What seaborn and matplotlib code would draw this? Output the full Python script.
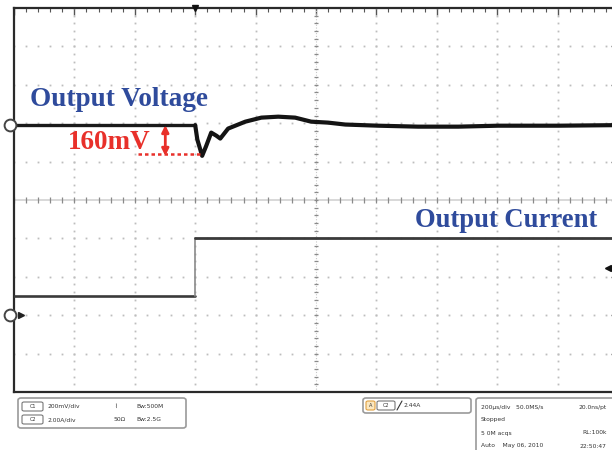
import numpy as np
import matplotlib
matplotlib.use("Agg")
import matplotlib.pyplot as plt
import seaborn as sns
from matplotlib.patches import FancyBboxPatch

# ---------------- data (read from the scope capture) ----------------
volt_time_us = [-600, 0, 7, 23, 36, 53, 70, 83, 109, 166, 219, 275, 331, 384,
                440, 497, 606, 738, 871, 1003, 1202, 1400]
volt_dev_mv = [0, 0, -75, -160, -110, -39, -55, -70, -18, 18, 39, 44, 39, 18,
               13, 3, -3, -8, -8, -3, -3, 0]
curr_time_us = [-600, 0, 0, 1400]
curr_amp = [1.0, 1.0, 4.0, 4.0]
trigger_level_a = 2.44
label_voltage = "Output Voltage"
label_current = "Output Current"
label_dip = "160mV"
status_ch1 = ["C1", "200mV/div", "Bw:500M"]
status_ch2 = ["C2", "2.00A/div", "50Ω", "Bw:2.5G"]
status_trig = ["A", "C2", "2.44A"]
status_acq = [("200µs/div   50.0MS/s", "20.0ns/pt"), ("Stopped", ""),
              ("5 0M acqs", "RL:100k"), ("Auto    May 06, 2010", "22:50:47")]

# scope settings
T_DIV = 200.0      # us/div
V_DIV = 200.0      # mV/div
I_DIV = 2.0        # A/div
CH1_POS = 1.95     # div
CH2_POS = -3.0     # div

W, H = 612, 450
sns.set_theme(style="white")
fig = plt.figure(figsize=(W / 100, H / 100), dpi=100)
fig.patch.set_facecolor("white")

L, R, T, B = 14, 618, 8, 392
ax = fig.add_axes([L / W, 1 - B / H, (R - L) / W, (B - T) / H])
ax.set_xlim(-600, 1400)
ax.set_ylim(-5, 5)

# ---------------- graticule ----------------
x_major = np.arange(-600, 1401, T_DIV)
x_minor = np.arange(-600, 1401, T_DIV / 5)
y_major = np.arange(-5, 5.01, 1)
y_minor = np.arange(-5, 5.01, 0.2)
dot = dict(ls="none", marker="s", ms=1.3, color="#bdbdbd", mew=0, zorder=1)
for yv in y_major[1:-1]:
    if abs(yv) < 1e-9:
        continue
    ax.plot(x_minor, np.full_like(x_minor, yv), **dot)
for xv in x_major[1:-1]:
    if abs(xv - 400) < 1e-9:
        continue
    ax.plot(np.full_like(y_minor, xv), y_minor, **dot)
# center crosshair
ax.axhline(0, color="#d2d2d2", lw=1.2, zorder=1)
ax.plot(x_minor, np.zeros_like(x_minor), ls="none", marker="|", ms=4,
        color="#8a8a8a", mew=0.9, zorder=1)
ax.axvline(400, color="#c8c8c8", lw=0.8, ls=(0, (1, 1.5)), zorder=1)
ax.plot(np.full_like(y_minor, 400), y_minor, ls="none", marker="_", ms=3.5,
        color="#8a8a8a", mew=0.9, zorder=1)

for s in ax.spines.values():
    s.set_color("#2a2a2a")
    s.set_linewidth(1.6)
ax.set_xticks(x_major)
ax.set_xticks(x_minor, minor=True)
ax.set_yticks(y_major)
ax.set_yticks(y_minor, minor=True)
ax.tick_params(which="both", direction="in", top=True, right=True,
               labelbottom=False, labelleft=False, color="#555555")
ax.tick_params(which="major", length=5, width=1.0)
ax.tick_params(which="minor", length=3, width=0.8)

# ---------------- traces ----------------
t_v = np.array(volt_time_us, dtype=float)
y_v = CH1_POS + np.array(volt_dev_mv, dtype=float) / V_DIV
t_i = np.array(curr_time_us, dtype=float)
y_i = CH2_POS + np.array(curr_amp, dtype=float) / I_DIV

sns.lineplot(x=t_i[:2], y=y_i[:2], ax=ax, estimator=None, sort=False,
             color="#3a3a3a", lw=1.9, zorder=3)
sns.lineplot(x=t_i[1:3], y=y_i[1:3], ax=ax, estimator=None, sort=False,
             color="#8a8a8a", lw=1.2, zorder=3)
sns.lineplot(x=t_i[2:], y=y_i[2:], ax=ax, estimator=None, sort=False,
             color="#3a3a3a", lw=2.0, zorder=3)
sns.lineplot(x=t_v[:2], y=y_v[:2], ax=ax, estimator=None, sort=False,
             color="#1a1a1a", lw=2.4, zorder=4)
sns.lineplot(x=t_v[1:], y=y_v[1:], ax=ax, estimator=None, sort=False,
             color="#141414", lw=3.0, zorder=4)

# channel reference markers
for yv in (CH1_POS, CH2_POS):
    ax.plot([-613], [yv], marker="o", ms=8.5, mfc="white", mec="#444444",
            mew=1.4, clip_on=False, zorder=6)
ax.plot([-578], [CH2_POS], marker=">", ms=4, color="#222222", clip_on=False,
        zorder=6)
# trigger markers
ax.plot([0], [5], marker="v", ms=4.5, color="#111111", clip_on=False, zorder=6)
ax.plot([1367], [CH2_POS + trigger_level_a / I_DIV], marker="<", ms=4,
        color="#111111", clip_on=False, zorder=6)

# ---------------- annotations ----------------
serif = ["Liberation Serif", "DejaVu Serif"]
blue = "#2f4b9c"
red = "#e8302a"
ax.text(-546, 2.45, label_voltage, family=serif, weight="bold", fontsize=19.6,
        color=blue, va="baseline", ha="left", zorder=7)
ax.text(728, -0.70, label_current, family=serif, weight="bold", fontsize=19.2,
        color=blue, va="baseline", ha="left", zorder=7)
ax.text(-421, 1.33, label_dip, family=serif, weight="bold", fontsize=19.5,
        color=red, va="baseline", ha="left", zorder=7)
vmin = CH1_POS + min(volt_dev_mv) / V_DIV
ax.annotate("", xy=(-99, CH1_POS), xytext=(-99, vmin),
            arrowprops=dict(arrowstyle="<|-|>", color=red, lw=2.0,
                            mutation_scale=10, shrinkA=0, shrinkB=0), zorder=7)
ax.plot([-189, 20], [vmin + 0.05, vmin + 0.05], color=red, lw=1.8,
        ls=(0, (1.4, 1.2)), zorder=7)

# ---------------- status bar ----------------
def fx(x):
    return x / W


def fy(y):
    return 1 - y / H


def box(x0, y0, x1, y1, ec="#9a9a9a", fc="none", lw=1.2, r=3):
    p = FancyBboxPatch((fx(x0), fy(y1)), fx(x1) - fx(x0), fy(y0) - fy(y1),
                       boxstyle=f"round,pad=0,rounding_size={r / W}",
                       transform=fig.transFigure, ec=ec, fc=fc, lw=lw,
                       clip_on=False)
    fig.patches.append(p)


def txt(x, y, s, size=4.3, color="#333333", ha="left"):
    fig.text(fx(x), fy(y), s, fontsize=size, color=color, ha=ha, va="center",
             family="DejaVu Sans")


box(18, 398, 186, 428)
box(22, 402, 43, 411, ec="#777777", lw=0.8, r=2)
box(22, 415, 43, 424, ec="#777777", lw=0.8, r=2)
txt(32.5, 406.5, status_ch1[0], size=3.6, ha="center")
txt(32.5, 419.5, status_ch2[0], size=3.6, ha="center")
txt(47, 406.5, status_ch1[1])
txt(47, 419.5, status_ch2[1])
txt(114, 406.5, "⌇")
txt(136, 406.5, status_ch1[2])
txt(114, 419.5, status_ch2[2])
txt(136, 419.5, status_ch2[3])

box(363, 398, 471, 413)
box(366, 401, 375, 410, ec="#e0a040", fc="#fbe7c0", lw=0.8, r=2)
box(377, 401, 395, 410, ec="#777777", lw=0.8, r=2)
txt(370.5, 405.5, status_trig[0], size=3.6, ha="center")
txt(386, 405.5, status_trig[1], size=3.6, ha="center")
fig.lines.append(plt.Line2D([fx(397), fx(402)], [fy(410), fy(401)],
                            transform=fig.transFigure, color="#333333", lw=0.8))
txt(404, 405.5, status_trig[2])

box(476, 398, 640, 470)
for k, (a, b) in enumerate(status_acq):
    yy = 407 + k * 13
    txt(481, yy, a)
    if b:
        txt(607, yy, b, ha="right")

fig.savefig("out.png", dpi=100)
